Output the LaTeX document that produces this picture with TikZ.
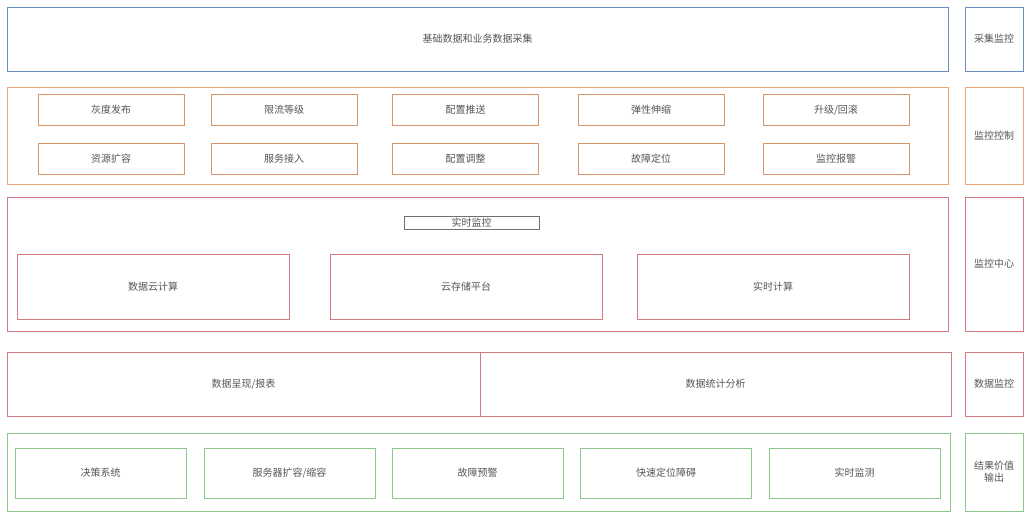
\documentclass[tikz,border=0pt]{standalone}
\usepackage{fontspec}
\setmainfont{Noto Sans CJK SC}
\usepackage{tikz}

\definecolor{cblue}{HTML}{6C8EBF}
\definecolor{corange}{HTML}{F0A27A}
\definecolor{cbrown}{HTML}{D9956A}
\definecolor{cred}{HTML}{D47A82}
\definecolor{cgreen}{HTML}{8CC88C}
\definecolor{cgray}{HTML}{555555}
\definecolor{cdark}{HTML}{707070}

\begin{document}
\begin{tikzpicture}[x=1pt,y=-1pt,line width=0.9pt,
                    font=\fontsize{10}{12}\selectfont,text=cgray]

  \tikzstyle{box}=[rectangle,draw,inner sep=0pt,outer sep=0pt,align=center,
                   text height=8.5pt,text depth=1.5pt]
  \tikzstyle{sidebox}=[box,minimum width=58pt]
  \tikzstyle{ctrl}=[box,draw=cbrown,minimum width=146pt,minimum height=31pt]
  \tikzstyle{calc}=[box,draw=cred,minimum width=272pt,minimum height=65pt]
  \tikzstyle{result}=[box,draw=cgreen,minimum width=171pt,minimum height=50pt]

  \useasboundingbox (0,0) rectangle (1024,512);

  % collection
  \node[box,draw=cblue,minimum width=941pt,minimum height=64pt] (collect) at (477.5,39) {基础数据和业务数据采集};
  \node[sidebox,draw=cblue,minimum height=64pt] (scollect) at (994,39) {采集监控};

  % control
  \node[box,draw=corange,minimum width=941pt,minimum height=97pt] (control) at (477.5,135.5) {};
  \node[sidebox,draw=corange,minimum height=97pt] (scontrol) at (994,135.5) {监控控制};

  \node[ctrl] (gray)     at (111,109.5)   {灰度发布};
  \node[ctrl] (limit)    at (284,109.5)   {限流等级};
  \node[ctrl] (push)     at (465.5,109.5) {配置推送};
  \node[ctrl] (elastic)  at (651,109.5)   {弹性伸缩};
  \node[ctrl] (upgrade)  at (836,109.5)   {升级/回滚};
  \node[ctrl] (expand)   at (111,158.5)   {资源扩容};
  \node[ctrl] (access)   at (284,158.5)   {服务接入};
  \node[ctrl] (adjust)   at (465.5,158.5) {配置调整};
  \node[ctrl] (locate)   at (651,158.5)   {故障定位};
  \node[ctrl] (alarm)    at (836,158.5)   {监控报警};

  % center
  \node[box,draw=cred,minimum width=941pt,minimum height=134pt] (center) at (477.5,264) {};
  \node[sidebox,draw=cred,minimum height=134pt] (scenter) at (994,264) {监控中心};

  \node[box,draw=cdark,line width=0.7pt,minimum width=135pt,minimum height=13pt] (realmon) at (471.5,222.5) {实时监控};
  \node[calc] (cloudcalc) at (153,286.5) {数据云计算};
  \node[calc] (storage)   at (466,286.5) {云存储平台};
  \node[calc] (realcalc)  at (773,286.5) {实时计算};

  % data
  \node[box,draw=cred,minimum width=473pt,minimum height=64pt] (report) at (243.5,384) {数据呈现/报表};
  \node[box,draw=cred,minimum width=471pt,minimum height=64pt] (stats)  at (715.5,384) {数据统计分析};
  \node[sidebox,draw=cred,minimum height=64pt] (sdata) at (994,384) {数据监控};

  % result
  \node[box,draw=cgreen,minimum width=943pt,minimum height=78pt] (output) at (478.5,472) {};
  \node[sidebox,draw=cgreen,minimum height=78pt,text height=20.5pt] (soutput) at (994,472) {结果价值\\输出};

  \node[result] (decide)   at (100.5,473) {决策系统};
  \node[result] (scale)    at (289.5,473) {服务器扩容/缩容};
  \node[result] (warn)     at (477.5,473) {故障预警};
  \node[result] (fastloc)  at (666,473)   {快速定位障碍};
  \node[result] (realtime) at (854.5,473) {实时监测};
\end{tikzpicture}
\end{document}
